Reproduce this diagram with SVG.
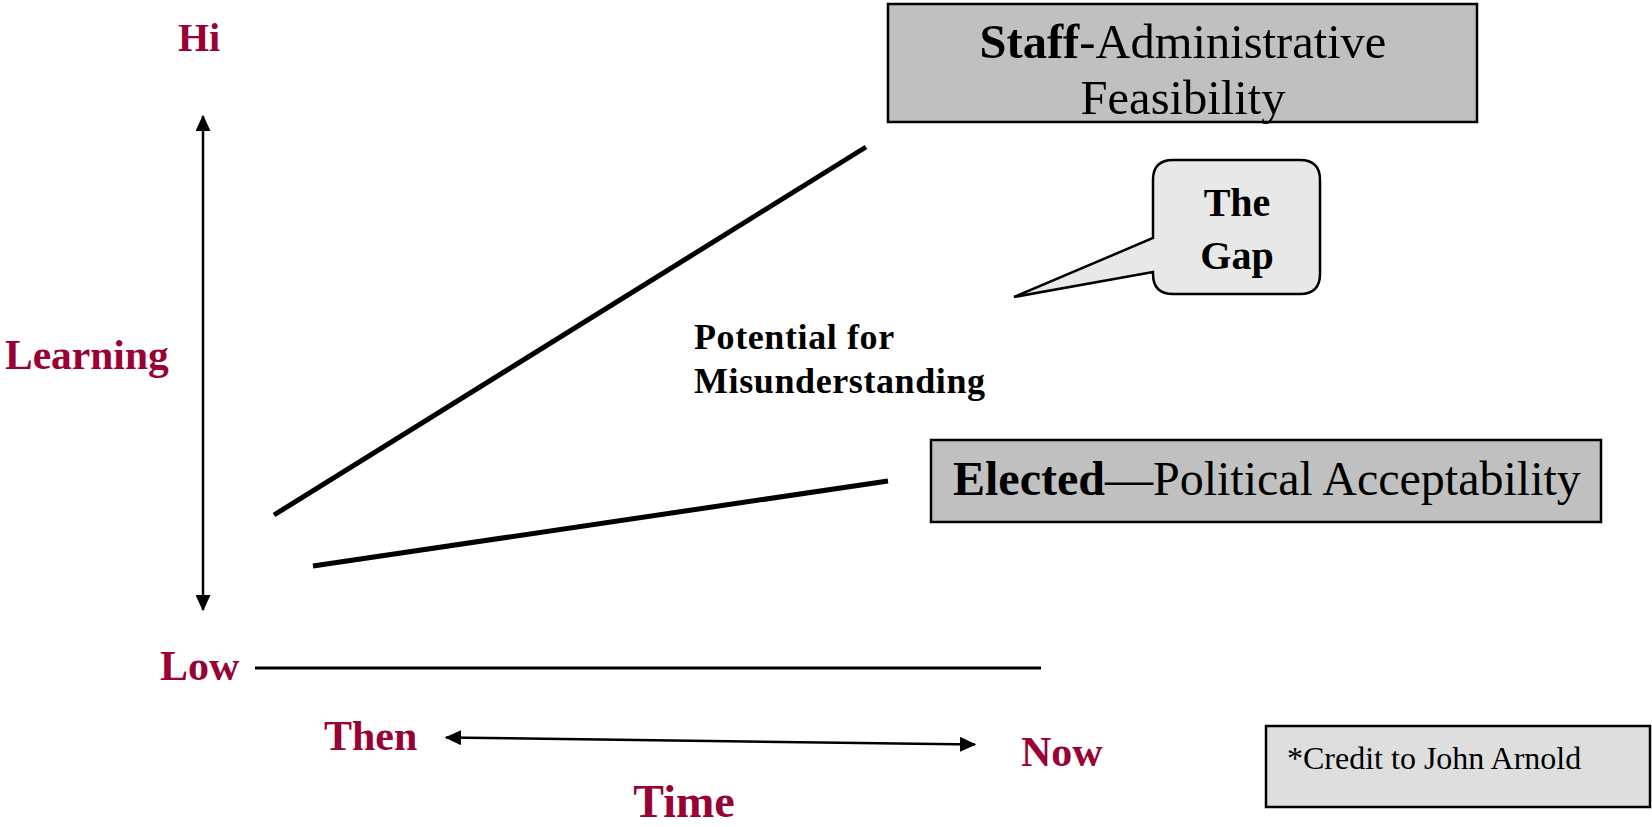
<svg xmlns="http://www.w3.org/2000/svg" width="1652" height="827" viewBox="0 0 1652 827">
<defs>
<marker id="ah" markerWidth="7" markerHeight="6" refX="6" refY="3" orient="auto-start-reverse" markerUnits="strokeWidth">
<path d="M0,0 L6.5,3 L0,6 Z" fill="#000"/>
</marker>
</defs>
<style>
.lab{font-family:"Liberation Serif","Times New Roman",serif;font-weight:bold;fill:#990033}
.ser{font-family:"Liberation Serif","Times New Roman",serif;fill:#000}
.b{font-weight:bold}
.box{stroke:#000;stroke-width:2.5}
</style>
<rect width="1652" height="827" fill="#fff"/>
<g id="connectors" stroke="#000" fill="none">
<line x1="203" y1="116" x2="203" y2="610" stroke-width="2.5" marker-start="url(#ah)" marker-end="url(#ah)"/>
<line x1="446" y1="737.5" x2="975" y2="744.5" stroke-width="2.5" marker-start="url(#ah)" marker-end="url(#ah)"/>
<line x1="255" y1="668" x2="1041" y2="668" stroke-width="3"/>
<line x1="274" y1="515" x2="866" y2="147" stroke-width="5"/>
<line x1="313" y1="566" x2="888" y2="481" stroke-width="5"/>
</g>
<g id="axis-labels">
<text class="lab" x="199" y="51" font-size="40" text-anchor="middle">Hi</text>
<text class="lab" x="5" y="369" font-size="41.5">Learning</text>
<text class="lab" x="160" y="680" font-size="42">Low</text>
<text class="lab" x="324" y="750" font-size="42">Then</text>
<text class="lab" x="1021" y="766" font-size="42">Now</text>
<text class="lab" x="684" y="817" font-size="46" text-anchor="middle">Time</text>
</g>
<g id="staff">
<rect class="box" x="888" y="4" width="589" height="118" fill="#c0c0c0"/>
<text class="ser" x="1183" y="58" font-size="48.5" text-anchor="middle"><tspan class="b">Staff</tspan>-Administrative</text>
<text class="ser" x="1183" y="114" font-size="48.5" text-anchor="middle">Feasibility</text>
</g>
<g id="gap">
<path class="box" d="M1173,160 H1300 Q1320,160 1320,180 V274 Q1320,294 1300,294 H1173 Q1153,294 1153,274 V272 L1014,297 L1153,238 V180 Q1153,160 1173,160 Z" fill="#e8e8e8"/>
<text class="ser b" x="1237" y="216" font-size="40" text-anchor="middle">The</text>
<text class="ser b" x="1237" y="269" font-size="40" text-anchor="middle">Gap</text>
</g>
<g id="potential">
<text class="ser b" x="694" y="349" font-size="36" letter-spacing="0.6">Potential for</text>
<text class="ser b" x="694" y="393" font-size="36" letter-spacing="0.6">Misunderstanding</text>
</g>
<g id="elected">
<rect class="box" x="931" y="440" width="670" height="82" fill="#c0c0c0"/>
<text class="ser" x="953" y="495" font-size="48"><tspan class="b">Elected</tspan>—Political Acceptability</text>
</g>
<g id="credit">
<rect class="box" x="1266" y="726" width="384" height="81" fill="#dedede"/>
<text class="ser" x="1287" y="769" font-size="32">*Credit to John Arnold</text>
</g>
</svg>
